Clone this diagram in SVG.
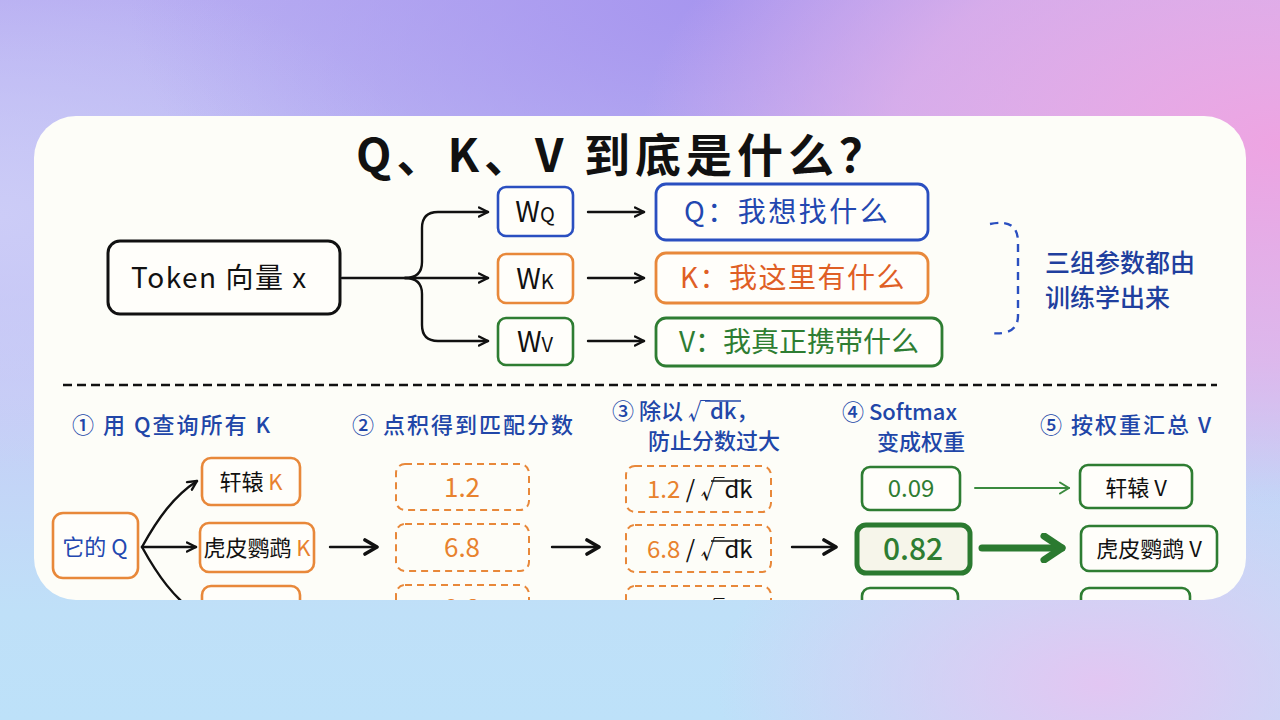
<svg xmlns="http://www.w3.org/2000/svg" width="1280" height="720" viewBox="0 0 1280 720">
<defs>
  <linearGradient id="bgbase" x1="0" y1="0" x2="0" y2="1">
    <stop offset="0" stop-color="#b8aef2"/>
    <stop offset="0.55" stop-color="#c6cdf6"/>
    <stop offset="0.85" stop-color="#bfe0f8"/>
    <stop offset="1" stop-color="#bde1f9"/>
  </linearGradient>
  <radialGradient id="gPurple" cx="0.55" cy="0" r="0.45">
    <stop offset="0" stop-color="#a796ef"/>
    <stop offset="1" stop-color="#a796ef" stop-opacity="0"/>
  </radialGradient>
  <radialGradient id="gPink" cx="1" cy="0.2" r="0.5">
    <stop offset="0" stop-color="#eea4e2"/>
    <stop offset="0.6" stop-color="#e7b0e8" stop-opacity="0.7"/>
    <stop offset="1" stop-color="#e7b0e8" stop-opacity="0"/>
  </radialGradient>
  <radialGradient id="gLav" cx="0.86" cy="0.95" r="0.3">
    <stop offset="0" stop-color="#e2c6f2"/>
    <stop offset="1" stop-color="#e2c6f2" stop-opacity="0"/>
  </radialGradient>
  <radialGradient id="gLeft" cx="0" cy="0.3" r="0.35">
    <stop offset="0" stop-color="#ccccf7"/>
    <stop offset="1" stop-color="#ccccf7" stop-opacity="0"/>
  </radialGradient>
  <clipPath id="cardClip">
    <rect x="34" y="116" width="1212" height="484" rx="42"/>
  </clipPath>
  <marker id="arr" viewBox="0 0 12 12" refX="10.5" refY="6" markerWidth="12" markerHeight="12" markerUnits="userSpaceOnUse" orient="auto">
    <path d="M1.5,1.5 L10.5,6 L1.5,10.5" fill="none" stroke="#111" stroke-width="2.4" stroke-linecap="round" stroke-linejoin="round"/>
  </marker>
  <marker id="arrBig" viewBox="0 0 18 18" refX="15" refY="9" markerWidth="18" markerHeight="18" markerUnits="userSpaceOnUse" orient="auto">
    <path d="M3,2 L15,9 L3,16" fill="none" stroke="#111" stroke-width="3.6" stroke-linecap="round" stroke-linejoin="round"/>
  </marker>
  <marker id="arrG" viewBox="0 0 12 14" refX="10.5" refY="7" markerWidth="12" markerHeight="14" markerUnits="userSpaceOnUse" orient="auto">
    <path d="M1.5,1.5 L10.5,7 L1.5,12.5" fill="none" stroke="#3a8a3e" stroke-width="2" stroke-linecap="round" stroke-linejoin="round"/>
  </marker>
  <marker id="arrGBig" viewBox="0 0 26 30" refX="22" refY="15" markerWidth="26" markerHeight="30" markerUnits="userSpaceOnUse" orient="auto">
    <path d="M4,3 L22,15 L4,27" fill="none" stroke="#2b7a30" stroke-width="7" stroke-linecap="round" stroke-linejoin="round"/>
  </marker>
  <style>
    text { font-family: "Noto Sans CJK SC", "Noto Sans", sans-serif; }
    .title { font-size: 46px; font-weight: 700; fill: #111; letter-spacing: 5px; }
    .blk { fill: #111; }
    .blue { fill: #2347b0; }
    .orange { fill: #e8822e; }
    .red { fill: #df5f25; }
    .green { fill: #2e7d32; }
    .step { font-size: 22px; fill: #2146a8; font-weight: 500; }
    .wide { letter-spacing: 2px; }
    .note { font-size: 25px; fill: #1f3f9e; font-weight: 500; }
    .boxK { fill: #fffefa; stroke: #e8883a; stroke-width: 2.6; }
    .boxDash { fill: none; stroke: #e8883a; stroke-width: 2; stroke-dasharray: 7 5; }
    .boxG { fill: #fffefa; stroke: #2e7d32; stroke-width: 2.6; }
    .conn { fill: none; stroke: #111; stroke-width: 2.4; stroke-linecap: round; }
  </style>
</defs>

<!-- background -->
<rect width="1280" height="720" fill="url(#bgbase)"/>
<rect width="1280" height="720" fill="url(#gLeft)"/>
<rect width="1280" height="720" fill="url(#gPurple)"/>
<rect width="1280" height="720" fill="url(#gPink)"/>
<rect width="1280" height="720" fill="url(#gLav)"/>

<!-- card -->
<rect x="34" y="116" width="1212" height="484" rx="42" fill="#fdfdf8"/>

<g clip-path="url(#cardClip)">
  <text class="title" x="356" y="172">Q、K、V 到底是什么？</text>

  <!-- top section nodes -->
  <g id="token">
    <rect x="108" y="241" width="232" height="73" rx="12" fill="#fffefa" stroke="#111" stroke-width="3"/>
    <text x="131" y="288" font-size="28" letter-spacing="1.5" class="blk">Token 向量 x</text>
  </g>
  <g id="wq">
    <rect x="498" y="187" width="75" height="49" rx="8" fill="#fffefa" stroke="#2a4fc0" stroke-width="2.6"/>
    <text x="535" y="222" text-anchor="middle" class="blk"><tspan font-size="28">W</tspan><tspan font-size="20">Q</tspan></text>
  </g>
  <g id="wk">
    <rect x="498" y="254" width="75" height="49" rx="8" fill="#fffefa" stroke="#e8883a" stroke-width="2.6"/>
    <text x="535" y="289" text-anchor="middle" class="blk"><tspan font-size="28">W</tspan><tspan font-size="20">K</tspan></text>
  </g>
  <g id="wv">
    <rect x="498" y="318" width="75" height="47" rx="8" fill="#fffefa" stroke="#2e7d32" stroke-width="2.6"/>
    <text x="535" y="352" text-anchor="middle" class="blk"><tspan font-size="28">W</tspan><tspan font-size="20">V</tspan></text>
  </g>
  <g id="qbox">
    <rect x="656" y="184" width="272" height="56" rx="10" fill="#fffefa" stroke="#2a4fc0" stroke-width="2.8"/>
    <text x="684" y="222" font-size="28" letter-spacing="2.5" class="blue">Q：我想找什么</text>
  </g>
  <g id="kbox">
    <rect x="656" y="253" width="272" height="50" rx="10" fill="#fffefa" stroke="#e8883a" stroke-width="2.8"/>
    <text x="680" y="288" font-size="28" letter-spacing="1.5" class="red">K：我这里有什么</text>
  </g>
  <g id="vbox">
    <rect x="656" y="318" width="286" height="48" rx="10" fill="#fffefa" stroke="#2e7d32" stroke-width="2.8"/>
    <text x="679" y="352" font-size="28" class="green">V：我真正携带什么</text>
  </g>
  <g id="note">
    <path d="M990 224 Q1018 218 1018 242 L1018 316 Q1018 336 990 333" fill="none" stroke="#2a4fc0" stroke-width="2.4" stroke-dasharray="8 6"/>
    <text class="note" x="1045" y="272">三组参数都由</text>
    <text class="note" x="1045" y="307">训练学出来</text>
  </g>

  <!-- divider -->
  <line x1="63" y1="385" x2="1217" y2="385" stroke="#111" stroke-width="2.6" stroke-dasharray="9 5"/>

  <!-- step labels -->
  <text class="step wide" x="72" y="433">① 用 Q查询所有 K</text>
  <text class="step wide" x="352" y="433">② 点积得到匹配分数</text>
  <text class="step" x="612" y="419">③ 除以 √dk，</text>
  <line x1="705" y1="401" x2="741" y2="401" stroke="#2146a8" stroke-width="1.6"/>
  <text class="step" x="648" y="449">防止分数过大</text>
  <text class="step" x="842" y="420">④ Softmax</text>
  <text class="step" x="877" y="450">变成权重</text>
  <text class="step wide" x="1040" y="433">⑤ 按权重汇总 V</text>

  <!-- bottom nodes -->
  <g id="itsq">
    <rect x="53" y="513" width="85" height="65" rx="10" class="boxK"/>
    <text x="95" y="555" text-anchor="middle" font-size="22" class="blue">它的 Q</text>
  </g>
  <g id="k1">
    <rect x="202" y="458" width="98" height="47" rx="9" class="boxK"/>
    <text x="251" y="490" text-anchor="middle" font-size="22" class="blk">轩辕 <tspan class="orange">K</tspan></text>
  </g>
  <g id="k2">
    <rect x="200" y="523" width="114" height="49" rx="9" class="boxK"/>
    <text x="257" y="556" text-anchor="middle" font-size="22" class="blk">虎皮鹦鹉 <tspan class="orange">K</tspan></text>
  </g>
  <g id="k3">
    <rect x="202" y="586" width="98" height="47" rx="9" class="boxK"/>
  </g>
  <g id="s1">
    <rect x="396" y="464" width="133" height="46" rx="9" class="boxDash"/>
    <text x="462" y="497" text-anchor="middle" font-size="26" class="orange">1.2</text>
  </g>
  <g id="s2">
    <rect x="396" y="524" width="133" height="47" rx="9" class="boxDash"/>
    <text x="462" y="557" text-anchor="middle" font-size="26" class="orange">6.8</text>
  </g>
  <g id="s3">
    <rect x="396" y="585" width="133" height="47" rx="9" class="boxDash"/>
    <text x="462" y="618" text-anchor="middle" font-size="26" class="orange">0.8</text>
  </g>
  <g id="d1">
    <rect x="626" y="466" width="145" height="46" rx="9" class="boxDash"/>
    <text x="647" y="498" font-size="24"><tspan class="orange">1.2</tspan><tspan class="blk"> / √dk</tspan></text>
    <line x1="711" y1="481" x2="751" y2="481" stroke="#111" stroke-width="1.6"/>
  </g>
  <g id="d2">
    <rect x="626" y="525" width="145" height="47" rx="9" class="boxDash"/>
    <text x="647" y="558" font-size="24"><tspan class="orange">6.8</tspan><tspan class="blk"> / √dk</tspan></text>
    <line x1="711" y1="541" x2="751" y2="541" stroke="#111" stroke-width="1.6"/>
  </g>
  <g id="d3">
    <rect x="626" y="586" width="145" height="47" rx="9" class="boxDash"/>
    <text x="647" y="619" font-size="24"><tspan class="orange">0.8</tspan><tspan class="blk"> / √dk</tspan></text>
    <line x1="711" y1="602" x2="751" y2="602" stroke="#111" stroke-width="1.6"/>
  </g>
  <g id="w1">
    <rect x="862" y="467" width="98" height="43" rx="8" class="boxG"/>
    <text x="911" y="497" text-anchor="middle" font-size="24" class="green">0.09</text>
  </g>
  <g id="w2">
    <rect x="857" y="525" width="113" height="48" rx="9" fill="#f6f5ea" stroke="#2b7a30" stroke-width="5"/>
    <text x="913" y="560" text-anchor="middle" font-size="30" font-weight="500" class="green">0.82</text>
  </g>
  <g id="w3">
    <rect x="862" y="588" width="96" height="43" rx="8" class="boxG"/>
  </g>
  <g id="v1">
    <rect x="1080" y="465" width="112" height="43" rx="8" class="boxG"/>
    <text x="1136" y="496" text-anchor="middle" font-size="22" class="blk">轩辕 V</text>
  </g>
  <g id="v2">
    <rect x="1081" y="526" width="136" height="45" rx="8" class="boxG"/>
    <text x="1149" y="557" text-anchor="middle" font-size="22" class="blk">虎皮鹦鹉 V</text>
  </g>
  <g id="v3">
    <rect x="1081" y="588" width="109" height="43" rx="8" class="boxG"/>
  </g>

  <!-- connectors -->
  <g id="connectors">
    <path class="conn" d="M342 278 L488 278" marker-end="url(#arr)"/>
    <path class="conn" d="M405 278 Q422 278 422 262 L422 228 Q422 212 438 212 L488 212" marker-end="url(#arr)"/>
    <path class="conn" d="M405 278 Q422 278 422 294 L422 325 Q422 341 438 341 L488 341" marker-end="url(#arr)"/>
    <path class="conn" d="M588 212 L644 212" marker-end="url(#arr)"/>
    <path class="conn" d="M588 278 L644 278" marker-end="url(#arr)"/>
    <path class="conn" d="M588 341 L644 341" marker-end="url(#arr)"/>

    <path class="conn" d="M142 547 C158 518 174 496 197 481" marker-end="url(#arr)"/>
    <path class="conn" d="M142 547 L196 547" marker-end="url(#arr)"/>
    <path class="conn" d="M142 547 C158 576 174 598 197 614" marker-end="url(#arr)"/>
    <path class="conn" d="M330 547 L377 547" stroke-width="3.6" marker-end="url(#arrBig)"/>
    <path class="conn" d="M552 547 L599 547" stroke-width="3.6" marker-end="url(#arrBig)"/>
    <path class="conn" d="M792 547 L836 547" stroke-width="3.2" marker-end="url(#arrBig)"/>
    <path d="M975 488 L1069 488" fill="none" stroke="#3a8a3e" stroke-width="2" stroke-linecap="round" marker-end="url(#arrG)"/>
    <path d="M982 548 L1062 548" fill="none" stroke="#2b7a30" stroke-width="7" stroke-linecap="round" marker-end="url(#arrGBig)"/>
  </g>
</g>
</svg>
